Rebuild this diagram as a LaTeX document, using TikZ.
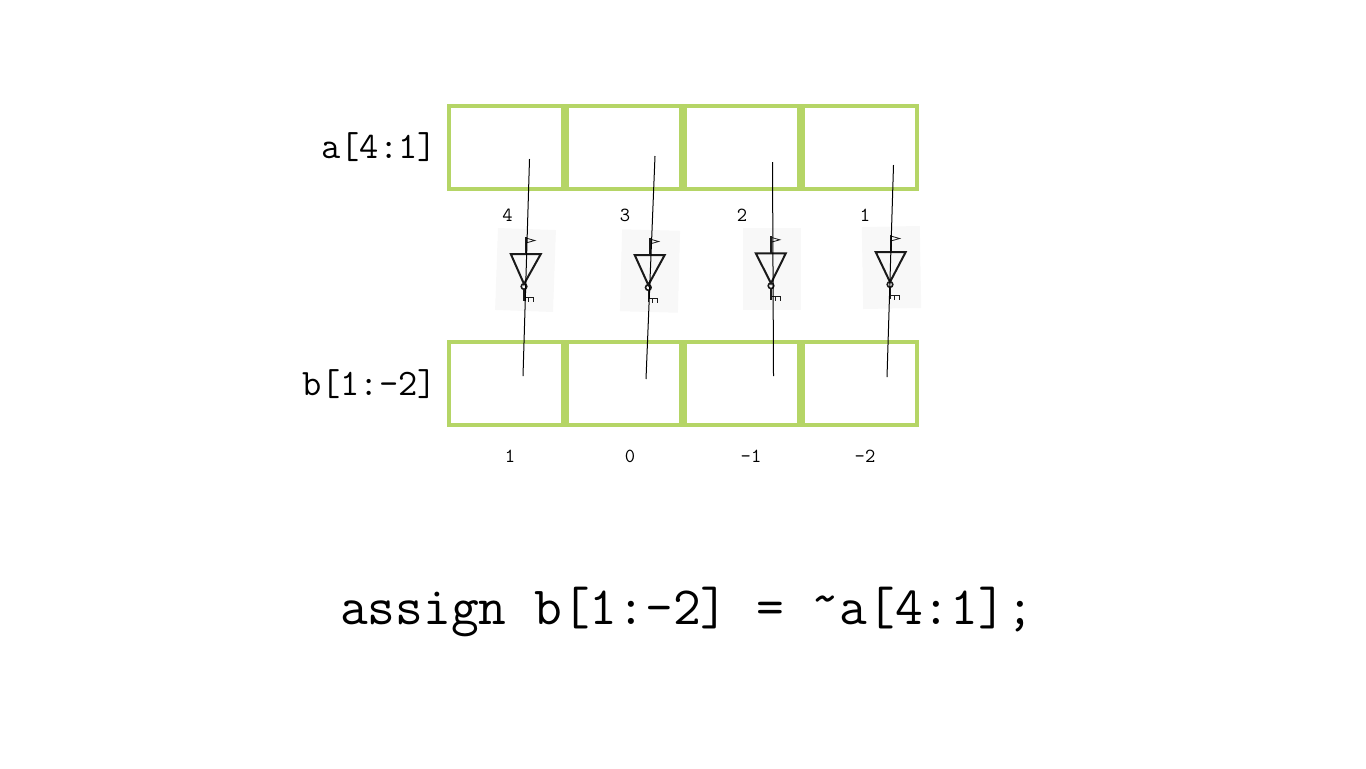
\documentclass[tikz,border=0pt]{standalone}
\usepackage{fontspec}
\usetikzlibrary{positioning}
\definecolor{cellgreen}{HTML}{B5D566}
\definecolor{padgray}{HTML}{F8F8F8}
\definecolor{gatedark}{HTML}{1A1A1A}
\begin{document}
\begin{tikzpicture}[
    x=0.75pt,
    y=-0.75pt,
    cell/.style={rectangle, draw=cellgreen, line width=3pt, inner sep=0pt, minimum width=85.5pt, minimum height=62.25pt},
    pad/.style={rectangle, fill=padgray, inner sep=0pt, minimum width=43.5pt, minimum height=61.5pt},
    bus/.style={font=\ttfamily\fontsize{28}{32}\selectfont, inner sep=0pt},
    bit/.style={font=\ttfamily\fontsize{15}{17}\selectfont, inner sep=0pt},
    code/.style={font=\ttfamily\fontsize{40.4}{46}\selectfont, inner sep=0pt},
    wire/.style={draw=black, line width=0.75pt},
    pics/notgate/.style={code={
        \draw[gatedark, line width=1.5pt] (0,-17) -- (0,0);
        \draw[gatedark, line width=0.6pt] (0,-16) -- (9,-13.5) -- (0,-11) -- cycle;
        \draw[gatedark, line width=1.5pt, line join=miter] (-15,0) -- (15,0) -- (#1,30) -- cycle;
        \draw[gatedark, line width=1.2pt] (#1,32.5) circle [radius=2.8];
        \draw[gatedark, line width=1.2pt] (#1,35.5) -- (#1,47);
        \draw[gatedark, line width=0.6pt] (#1,43) -- (#1+10,43) (#1+4,43) -- (#1+4,47.5) (#1+9,43) -- (#1+9,47.5);
    }}
]
\useasboundingbox (0,0) rectangle (1366,768);
% shaded pads behind the gates
\node[pad, rotate=-2] (pad4) at (525.5,270) {};
\node[pad, rotate=-1.5] (pad3) at (650,271) {};
\node[pad, rotate=0] (pad2) at (772,269) {};
\node[pad, rotate=1] (pad1) at (891.5,267.5) {};
% registers
\node[cell] (a4) at (506,147.3) {};
\node[cell, right=0pt of a4] (a3) {};
\node[cell, right=0pt of a3] (a2) {};
\node[cell, right=0pt of a2] (a1) {};
\node[cell, below=111.9pt of a4] (b1) {};
\node[cell, right=0pt of b1] (b0) {};
\node[cell, right=0pt of b0] (bm1) {};
\node[cell, right=0pt of bm1] (bm2) {};
% gates
\pic (g4) at (525.8,254) {notgate=-1.8};
\pic (g3) at (649.7,255) {notgate=-1.4};
\pic (g2) at (770.8,253.3) {notgate=0.2};
\pic (g1) at (890.7,252) {notgate=-0.7};
% wire ends
\coordinate (in4) at (529.5,159);
\coordinate (in3) at (655,156);
\coordinate (in2) at (772.5,162);
\coordinate (in1) at (893.5,165);
\coordinate (out4) at (523,376);
\coordinate (out3) at (646,379);
\coordinate (out2) at (773.5,376);
\coordinate (out1) at (887,377);
\draw[wire] (in4) -- (out4);
\draw[wire] (in3) -- (out3);
\draw[wire] (in2) -- (out2);
\draw[wire] (in1) -- (out1);
% labels
\node[bus] (abus) at (379,147) {a[4:1]};
\node[bus] (bbus) at (369.5,384) {b[1:-2]};
\node[bit] (na4) at (507.5,215) {4};
\node[bit] (na3) at (625,215) {3};
\node[bit] (na2) at (742,215) {2};
\node[bit] (na1) at (865,215) {1};
\node[bit] (nb1) at (510,456) {1};
\node[bit] (nb0) at (630,456) {0};
\node[bit] (nbm1) at (751,456) {-1};
\node[bit] (nbm2) at (865,456) {-2};
\node[code] (assign) at (687,612) {assign b[1:-2] = \raisebox{0.16em}{\textasciitilde}a[4:1];};
\end{tikzpicture}
\end{document}
